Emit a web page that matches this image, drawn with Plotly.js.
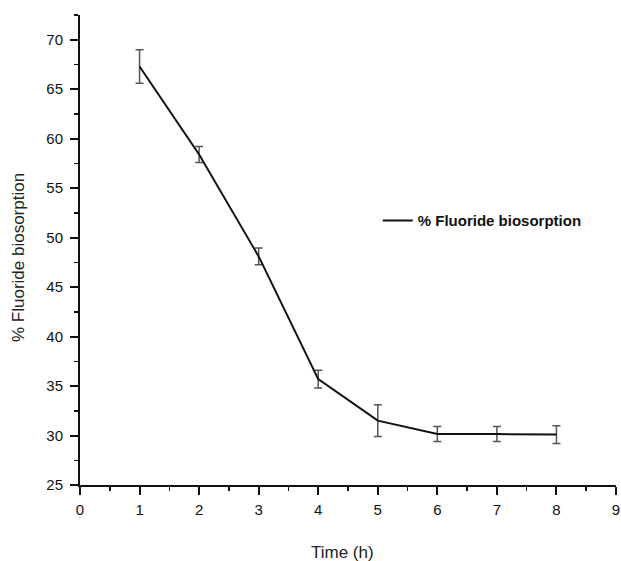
<!DOCTYPE html>
<html>
<head>
<meta charset="utf-8">
<script src="https://cdn.plot.ly/plotly-3.0.1.min.js"></script>
<style>html,body{margin:0;padding:0;background:#fff;}#chart{width:621px;height:561px;}</style>
</head>
<body>
<div id="chart"></div>
<script>
const timeH = [1, 2, 3, 4, 5, 6, 7, 8];
const fluoridePct = [67.3, 58.4, 48.1, 35.7, 31.5, 30.15, 30.15, 30.1];
const errPct = [1.7, 0.8, 0.85, 0.9, 1.6, 0.75, 0.75, 0.9];
const xTicks = [0, 1, 2, 3, 4, 5, 6, 7, 8, 9];
const yTicks = [25, 30, 35, 40, 45, 50, 55, 60, 65, 70];

const trace = {
  x: timeH, y: fluoridePct, type: 'scatter', mode: 'lines',
  name: '<b>% Fluoride biosorption</b>',
  line: {color: '#111', width: 2},
  error_y: {type: 'data', array: errPct, visible: true, color: '#555', thickness: 1.5, width: 4}
};

const fam = 'Liberation Sans, Arial, sans-serif';
const axisFont = {family: fam, size: 15, color: '#111'};
const layout = {
  width: 621, height: 561,
  margin: {l: 80, r: 5, t: 15, b: 76},
  paper_bgcolor: '#fff', plot_bgcolor: '#fff',
  showlegend: true,
  legend: {x: 0.5555, y: 0.562, xanchor: 'left', yanchor: 'middle', bgcolor: 'rgba(0,0,0,0)',
    font: {family: fam, size: 15, color: '#111'}},
  xaxis: {
    range: [0, 9], tickvals: xTicks, ticktext: xTicks.map(String),
    showgrid: false, zeroline: false, showline: true, linecolor: '#111', linewidth: 2,
    ticks: 'outside', ticklen: 8, tickwidth: 2, tickcolor: '#111', ticklabelstandoff: 2,
    ticklabeloverflow: 'allow',
    minor: {dtick: 0.5, ticks: 'outside', ticklen: 4, tickwidth: 1.5, tickcolor: '#111', showgrid: false},
    tickfont: axisFont
  },
  yaxis: {
    range: [25, 72.5], tickvals: yTicks, ticktext: yTicks.map(String),
    showgrid: false, zeroline: false, showline: true, linecolor: '#111', linewidth: 2,
    ticks: 'outside', ticklen: 8, tickwidth: 2, tickcolor: '#111', ticklabelstandoff: 4,
    ticklabeloverflow: 'allow',
    minor: {dtick: 2.5, tick0: 25, ticks: 'outside', ticklen: 4, tickwidth: 1.5, tickcolor: '#111', showgrid: false},
    tickfont: axisFont
  },
  annotations: [
    {text: 'Time (h)', xref: 'paper', yref: 'paper', x: (342 - 80) / 536, y: -(552 - 485) / 470,
     xanchor: 'center', yanchor: 'middle', showarrow: false, font: {family: fam, size: 17, color: '#222'}},
    {text: '% Fluoride biosorption', xref: 'paper', yref: 'paper', x: -(80 - 18) / 536, y: (485 - 258) / 470,
     xanchor: 'center', yanchor: 'middle', textangle: -90, showarrow: false, font: {family: fam, size: 17, color: '#222'}}
  ]
};
Plotly.newPlot('chart', [trace], layout, {displayModeBar: false, staticPlot: true});
</script>
</body>
</html>
